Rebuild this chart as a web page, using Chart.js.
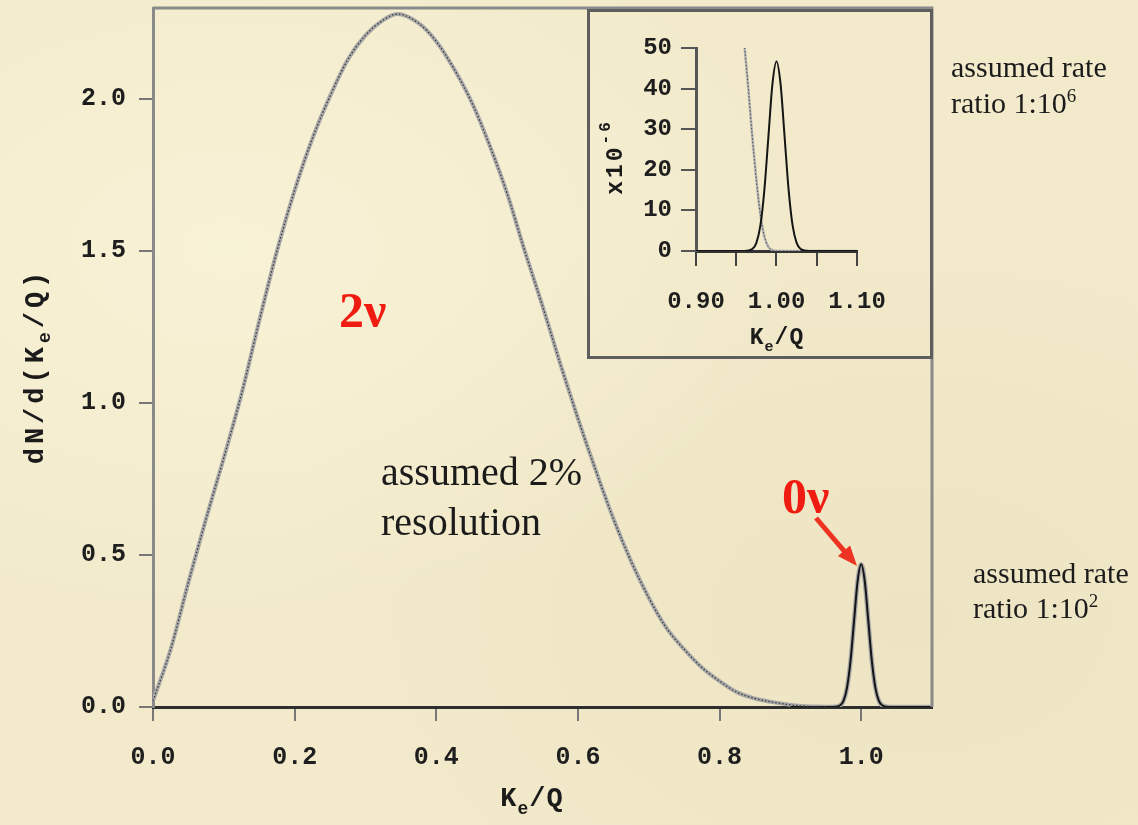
<!DOCTYPE html>
<html>
<head>
<meta charset="utf-8">
<title>2nu / 0nu spectrum</title>
<script src="https://cdn.jsdelivr.net/npm/chart.js@4.4.1/dist/chart.umd.min.js"></script>
<style>
  body { margin: 0; background: #f2eacb; }
  #wrap {
    position: relative; width: 1138px; height: 825px; overflow: hidden;
    background:
      radial-gradient(ellipse at 20% 30%, rgba(255,250,225,0.5), rgba(255,250,225,0) 45%),
      radial-gradient(ellipse at 80% 75%, rgba(230,218,180,0.35), rgba(230,218,180,0) 50%),
      #f2eacb;
  }
  #mainChart { position: absolute; left: 0; top: 0; }
  #insetChart { position: absolute; left: 587px; top: 9px; }
</style>
</head>
<body>
<div id="wrap">
  <canvas id="mainChart" width="1138" height="825"></canvas>
  <canvas id="insetChart" width="346" height="350"></canvas>
</div>
<script>
// main plot: summed electron energy K_e/Q
const k2nu = [0.000, 0.025, 0.050, 0.075, 0.100, 0.125, 0.150, 0.175, 0.200, 0.225,
              0.250, 0.275, 0.300, 0.325, 0.345, 0.375, 0.400, 0.425, 0.450, 0.475,
              0.500, 0.525, 0.550, 0.575, 0.600, 0.625, 0.650, 0.675, 0.700, 0.725,
              0.750, 0.775, 0.800, 0.825, 0.850, 0.875, 0.900, 0.925, 0.950];
const dn2nu = [0.02, 0.19, 0.41, 0.62, 0.82, 1.03, 1.27, 1.50, 1.70, 1.87,
               2.01, 2.13, 2.21, 2.26, 2.28, 2.25, 2.19, 2.10, 1.99, 1.85,
               1.69, 1.50, 1.32, 1.13, 0.95, 0.78, 0.62, 0.48, 0.36, 0.26,
               0.19, 0.13, 0.085, 0.048, 0.028, 0.016, 0.007, 0.002, 0];

const k0nu = [0.90, 0.96, 0.97, 0.975, 0.98, 0.985, 0.99, 0.995, 1.00,
              1.005, 1.01, 1.015, 1.02, 1.025, 1.03, 1.04, 1.10];
const dn0nu = [0, 0, 0.005, 0.02, 0.064, 0.153, 0.285, 0.415, 0.47,
               0.415, 0.285, 0.153, 0.064, 0.02, 0.005, 0, 0];

const mainXTicks = [0, 0.2, 0.4, 0.6, 0.8, 1.0];
const mainYTicks = [0, 0.5, 1.0, 1.5, 2.0];

// inset: zoom on the endpoint, units of 1e-6
const insetK2nu = [0.960, 0.965, 0.970, 0.975, 0.980, 0.985, 0.990, 0.995, 1.000, 1.050, 1.100];
const inset2nu = [51, 40, 28, 17.5, 9, 3.5, 1, 0.2, 0, 0, 0];

const insetK0nu = [0.90, 0.96, 0.97, 0.975, 0.98, 0.985, 0.99, 0.995, 1.00,
                   1.005, 1.01, 1.015, 1.02, 1.025, 1.03, 1.04, 1.10];
const inset0nu = [0, 0, 0.5, 2, 6.3, 15.2, 28.3, 41.2, 46.7,
                  41.2, 28.3, 15.2, 6.3, 2, 0.5, 0, 0];

const insetXTicks = [0.90, 0.95, 1.00, 1.05, 1.10];
const insetXLabels = ['0.90', '', '1.00', '', '1.10'];
const insetYTicks = [0, 10, 20, 30, 40, 50];

const toPoints = (xs, ys) => xs.map((x, i) => ({ x: x, y: ys[i] }));

const MONO = "'Liberation Mono', 'DejaVu Sans Mono', monospace";
const SERIF = "'Liberation Serif', 'DejaVu Serif', serif";

// draw a row of text pieces (for sub/superscripts)
function drawParts(ctx, parts, x, y, opts) {
  ctx.save();
  ctx.translate(x, y);
  if (opts.rotate) ctx.rotate(opts.rotate);
  ctx.fillStyle = opts.color || '#1b1b1b';
  ctx.textBaseline = 'alphabetic';
  ctx.textAlign = 'left';
  ctx.letterSpacing = (opts.spacing || 0) + 'px';
  const fontOf = p => (opts.weight || 'normal') + ' ' + p.size + 'px ' + opts.family;
  let total = 0;
  parts.forEach(p => { ctx.font = fontOf(p); total += ctx.measureText(p.t).width; });
  let cx = opts.align === 'center' ? -total / 2 : 0;
  parts.forEach(p => {
    ctx.font = fontOf(p);
    ctx.fillText(p.t, cx, p.dy || 0);
    cx += ctx.measureText(p.t).width;
  });
  ctx.restore();
}

// keep the plot area where the picture has it
function fixWidth(w) {
  return s => { s.width = w; s.paddingTop = 0; s.paddingBottom = 0; };
}
function fixHeight(h) {
  return s => { s.height = h; s.paddingLeft = 0; s.paddingRight = 0; };
}

const mainDecor = {
  id: 'mainDecor',
  afterDraw(chart) {
    const ctx = chart.ctx;
    const a = chart.chartArea;
    // top and right frame
    ctx.save();
    ctx.strokeStyle = '#8a8a8a';
    ctx.lineWidth = 3;
    ctx.beginPath();
    ctx.moveTo(a.left, a.top);
    ctx.lineTo(a.right, a.top);
    ctx.lineTo(a.right, a.bottom);
    ctx.stroke();
    ctx.restore();

    // axis titles
    drawParts(ctx, [{ t: 'dN/d(K', size: 27 }, { t: 'e', size: 18, dy: 7 }, { t: '/Q)', size: 27 }],
      43, 366, { family: MONO, weight: 'bold', align: 'center', rotate: -Math.PI / 2, spacing: 4 });
    drawParts(ctx, [{ t: 'K', size: 27 }, { t: 'e', size: 18, dy: 8 }, { t: '/Q', size: 27 }],
      532, 806, { family: MONO, weight: 'bold', align: 'center', spacing: 1 });

    // annotations
    drawParts(ctx, [{ t: '2\u03bd', size: 50 }], 339, 327, { family: SERIF, weight: 'bold', color: '#f01c12' });
    drawParts(ctx, [{ t: '0\u03bd', size: 50 }], 782, 513, { family: SERIF, weight: 'bold', color: '#f01c12' });
    drawParts(ctx, [{ t: 'assumed 2%', size: 40 }], 381, 485, { family: SERIF });
    drawParts(ctx, [{ t: 'resolution', size: 40 }], 381, 535, { family: SERIF });
    drawParts(ctx, [{ t: 'assumed rate', size: 30 }], 951, 77, { family: SERIF });
    drawParts(ctx, [{ t: 'ratio 1:10', size: 30 }, { t: '6', size: 19, dy: -11 }], 951, 113, { family: SERIF });
    drawParts(ctx, [{ t: 'assumed rate', size: 30 }], 973, 583, { family: SERIF });
    drawParts(ctx, [{ t: 'ratio 1:10', size: 30 }, { t: '2', size: 19, dy: -11 }], 973, 618, { family: SERIF });

    // red arrow to the 0nu peak
    const x0 = 816, y0 = 518, x1 = 857, y1 = 566;
    const ang = Math.atan2(y1 - y0, x1 - x0);
    ctx.save();
    ctx.strokeStyle = '#ee3322';
    ctx.fillStyle = '#ee3322';
    ctx.lineWidth = 5;
    ctx.beginPath();
    ctx.moveTo(x0, y0);
    ctx.lineTo(x1 - 14 * Math.cos(ang), y1 - 14 * Math.sin(ang));
    ctx.stroke();
    ctx.beginPath();
    ctx.moveTo(x1, y1);
    ctx.lineTo(x1 - 20 * Math.cos(ang) + 8 * Math.sin(ang), y1 - 20 * Math.sin(ang) - 8 * Math.cos(ang));
    ctx.lineTo(x1 - 20 * Math.cos(ang) - 8 * Math.sin(ang), y1 - 20 * Math.sin(ang) + 8 * Math.cos(ang));
    ctx.closePath();
    ctx.fill();
    ctx.restore();
  }
};

new Chart(document.getElementById('mainChart'), {
  type: 'line',
  data: {
    datasets: [
      { label: '2nu dots', data: toPoints(k2nu, dn2nu), borderColor: '#3c3c3c', borderWidth: 1.3,
        borderDash: [1.5, 2], pointRadius: 0, cubicInterpolationMode: 'monotone', order: 0 },
      { label: '2nu', data: toPoints(k2nu, dn2nu), borderColor: '#a8a8a8', borderWidth: 4,
        pointRadius: 0, cubicInterpolationMode: 'monotone', order: 1 },
      { label: '0nu', data: toPoints(k0nu, dn0nu), borderColor: '#151515', borderWidth: 2,
        pointRadius: 0, cubicInterpolationMode: 'monotone', order: 0 },
      { label: '0nu halo', data: toPoints(k0nu, dn0nu), borderColor: '#a8a8a8', borderWidth: 4.5,
        pointRadius: 0, cubicInterpolationMode: 'monotone', order: 1 }
    ]
  },
  options: {
    responsive: false,
    animation: false,
    layout: { padding: { top: 8, right: 206, left: 0, bottom: 0 } },
    plugins: { legend: { display: false }, tooltip: { enabled: false } },
    scales: {
      x: {
        type: 'linear', min: 0, max: 1.1,
        afterFit: fixHeight(118),
        afterBuildTicks(s) { s.ticks = mainXTicks.map(v => ({ value: v })); },
        ticks: { callback: v => v.toFixed(1), font: { family: MONO, weight: 'bold', size: 25 },
                 color: '#1e1e1e', padding: 22, maxRotation: 0, autoSkip: false },
        grid: { drawOnChartArea: false, tickLength: 14, color: '#777', lineWidth: 2 },
        border: { color: '#2e2e2e', width: 3 }
      },
      y: {
        min: 0, max: 2.3,
        afterFit: fixWidth(153),
        afterBuildTicks(s) { s.ticks = mainYTicks.map(v => ({ value: v })); },
        ticks: { callback: v => v.toFixed(1), font: { family: MONO, weight: 'bold', size: 25 },
                 color: '#1e1e1e', padding: 13 },
        grid: { drawOnChartArea: false, tickLength: 14, color: '#777', lineWidth: 2 },
        border: { color: '#8a8a8a', width: 3 }
      }
    }
  },
  plugins: [mainDecor]
});

const insetDecor = {
  id: 'insetDecor',
  afterDraw(chart) {
    const ctx = chart.ctx;
    ctx.save();
    ctx.strokeStyle = '#5e5e5e';
    ctx.lineWidth = 3;
    ctx.strokeRect(1.5, 1.5, chart.width - 3, chart.height - 3);
    ctx.restore();
    drawParts(ctx, [{ t: 'x10', size: 23 }, { t: '-6', size: 16, dy: -12 }],
      35, 148, { family: MONO, weight: 'bold', align: 'center', rotate: -Math.PI / 2, spacing: 3 });
    drawParts(ctx, [{ t: 'K', size: 23 }, { t: 'e', size: 15, dy: 7 }, { t: '/Q', size: 23 }],
      190, 335, { family: MONO, weight: 'bold', align: 'center', spacing: 1 });
  }
};

new Chart(document.getElementById('insetChart'), {
  type: 'line',
  data: {
    datasets: [
      { label: '2nu dots', data: toPoints(insetK2nu, inset2nu), borderColor: '#4a4a4a', borderWidth: 1,
        borderDash: [1.5, 2], pointRadius: 0, cubicInterpolationMode: 'monotone', order: 1 },
      { label: '2nu', data: toPoints(insetK2nu, inset2nu), borderColor: '#b5b5b5', borderWidth: 2.5,
        pointRadius: 0, cubicInterpolationMode: 'monotone', order: 2 },
      { label: '0nu', data: toPoints(insetK0nu, inset0nu), borderColor: '#151515', borderWidth: 2,
        pointRadius: 0, cubicInterpolationMode: 'monotone', order: 0 }
    ]
  },
  options: {
    responsive: false,
    animation: false,
    layout: { padding: { left: 0, right: 76, top: 39, bottom: 0 } },
    plugins: { legend: { display: false }, tooltip: { enabled: false } },
    scales: {
      x: {
        type: 'linear', min: 0.90, max: 1.10,
        afterFit: fixHeight(108),
        afterBuildTicks(s) { s.ticks = insetXTicks.map(v => ({ value: v })); },
        ticks: { callback: (v, i) => insetXLabels[i], font: { family: MONO, weight: 'bold', size: 24 },
                 color: '#1e1e1e', padding: 22, maxRotation: 0, autoSkip: false },
        grid: { drawOnChartArea: false, tickLength: 15, color: '#444', lineWidth: 2 },
        border: { color: '#333', width: 3 }
      },
      y: {
        min: 0, max: 50,
        afterFit: fixWidth(109),
        afterBuildTicks(s) { s.ticks = insetYTicks.map(v => ({ value: v })); },
        ticks: { font: { family: MONO, weight: 'bold', size: 24 }, color: '#1e1e1e', padding: 9 },
        grid: { drawOnChartArea: false, tickLength: 15, color: '#555', lineWidth: 2 },
        border: { color: '#555', width: 3 }
      }
    }
  },
  plugins: [insetDecor]
});
</script>
</body>
</html>
